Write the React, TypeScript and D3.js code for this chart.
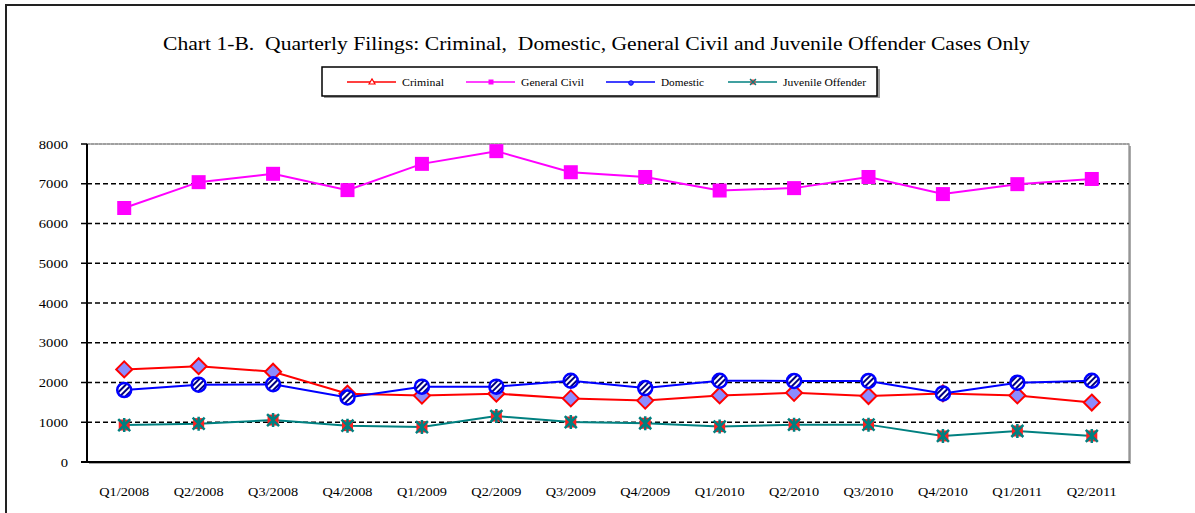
import React from 'react';
import * as d3 from 'd3';

const quarters = ['Q1/2008', 'Q2/2008', 'Q3/2008', 'Q4/2008', 'Q1/2009', 'Q2/2009', 'Q3/2009',
  'Q4/2009', 'Q1/2010', 'Q2/2010', 'Q3/2010', 'Q4/2010', 'Q1/2011', 'Q2/2011'];
const criminal = [2330, 2410, 2270, 1720, 1670, 1720, 1600, 1545, 1675, 1740, 1660, 1725, 1675, 1495];
const generalCivil = [6390, 7040, 7250, 6840, 7500, 7820, 7290, 7170, 6830, 6890, 7170, 6740, 6990, 7120];
const domestic = [1810, 1945, 1955, 1625, 1895, 1895, 2045, 1860, 2045, 2040, 2040, 1725, 1995, 2045];
const juvenile = [930, 965, 1055, 915, 880, 1155, 1005, 975, 890, 940, 940, 655, 780, 655];
const yTicks = [0, 1000, 2000, 3000, 4000, 5000, 6000, 7000, 8000];

const W = 1195;
const H = 513;
const plot = { left: 87, top: 144, right: 1129, bottom: 462 };
const serif = '"Liberation Serif", "Times New Roman", serif';

const x = d3.scaleBand<string>().domain(quarters).range([plot.left, plot.right]);
const y = d3.scaleLinear().domain([0, 8000]).range([plot.bottom, plot.top]);
const cx = (q: string) => (x(q) ?? 0) + x.bandwidth() / 2;

const line = (vals: number[]) =>
  d3.line<number>().x((_, i) => cx(quarters[i])).y(v => y(v))(vals) ?? '';

const Diamond = ({ px, py }: { px: number; py: number }) => (
  <path d={`M${px},${py - 8}L${px + 8},${py}L${px},${py + 8}L${px - 8},${py}Z`}
    fill="#8c8cff" stroke="#ff0000" strokeWidth={2} />
);
const Square = ({ px, py, s = 14 }: { px: number; py: number; s?: number }) => (
  <rect x={px - s / 2} y={py - s / 2} width={s} height={s} fill="#ff00ff" />
);
const Ring = ({ px, py, r = 7 }: { px: number; py: number; r?: number }) => (
  <circle cx={px} cy={py} r={r} fill="url(#stripes)" stroke="#0000ff" strokeWidth={2.5} />
);
const Star = ({ px, py, s = 11 }: { px: number; py: number; s?: number }) => (
  <g>
    <rect x={px - s / 2} y={py - s / 2} width={s} height={s} fill="#ff2020" />
    <path d={`M${px - 6},${py - 6}L${px + 6},${py + 6}M${px - 6},${py + 6}L${px + 6},${py - 6}M${px},${py - 7}L${px},${py + 7}`}
      stroke="#008080" strokeWidth={2.5} />
  </g>
);

const legendItems = [
  { name: 'Criminal', color: '#ff0000', x0: 347, w: 42 },
  { name: 'General Civil', color: '#ff00ff', x0: 466, w: 63 },
  { name: 'Domestic', color: '#0000ff', x0: 606, w: 43 },
  { name: 'Juvenile Offender', color: '#008080', x0: 728, w: 83 },
];

export default function App() {
  const legendY = 82;
  return (
    <svg width={W} height={H} style={{ position: 'absolute', left: 0, top: 0, background: '#fff' }}
      fontFamily={serif}>
      <defs>
        <pattern id="stripes" patternUnits="userSpaceOnUse" width={4} height={4}
          patternTransform="rotate(45)">
          <rect width={4} height={4} fill="#ffffff" />
          <rect width={2} height={4} fill="#000080" />
        </pattern>
      </defs>

      {/* outer frame */}
      <path d={`M6,${H}V5H${W}`} fill="none" stroke="#222" strokeWidth={2} />

      <text x={163} y={50} fontSize={19.5} textLength={867} lengthAdjust="spacingAndGlyphs"
        style={{ whiteSpace: 'pre' }}>
        Chart 1-B.  Quarterly Filings: Criminal,  Domestic, General Civil and Juvenile Offender Cases Only
      </text>

      {/* legend */}
      <rect x={324} y={69} width={556} height={29} fill="#999" />
      <rect x={322} y={67} width={555} height={29} fill="#fff" stroke="#000" strokeWidth={1.5} />
      {legendItems.map((it, i) => {
        const mid = it.x0 + 25;
        return (
          <g key={it.name}>
            <line x1={it.x0} x2={it.x0 + 49} y1={legendY} y2={legendY} stroke={it.color} strokeWidth={1.5} />
            {i === 0 && <path d={`M${mid - 3},${legendY + 2}L${mid},${legendY - 3}L${mid + 3},${legendY + 2}Z`}
              fill="#fff" stroke="#ff0000" strokeWidth={1.2} />}
            {i === 1 && <Square px={mid} py={legendY} s={5} />}
            {i === 2 && <circle cx={mid} cy={legendY + 1} r={2.3} fill="#4040ff" stroke="#0000ff" strokeWidth={1} />}
            {i === 3 && <g>
              <rect x={mid - 2.5} y={legendY - 2.5} width={5} height={5} fill="#ff4040" />
              <path d={`M${mid - 3},${legendY - 3}L${mid + 3},${legendY + 3}M${mid - 3},${legendY + 3}L${mid + 3},${legendY - 3}`}
                stroke="#008080" strokeWidth={1.3} />
            </g>}
            <text x={it.x0 + 55} y={legendY + 3.5} fontSize={10.5} textLength={it.w}
              lengthAdjust="spacingAndGlyphs">{it.name}</text>
          </g>
        );
      })}

      {/* plot area */}
      <rect x={plot.left + 2} y={plot.top + 2} width={plot.right - plot.left} height={plot.bottom - plot.top}
        fill="#aaa" />
      <rect x={plot.left} y={plot.top} width={plot.right - plot.left} height={plot.bottom - plot.top}
        fill="#fff" stroke="#888" strokeWidth={1.2} />
      {yTicks.filter(t => t > 0 && t < 8000).map(t => (
        <line key={t} x1={plot.left} x2={plot.right} y1={y(t)} y2={y(t)}
          stroke="#000" strokeWidth={1.5} strokeDasharray="5,3" />
      ))}
      <line x1={plot.left} x2={plot.right} y1={y(8000)} y2={y(8000)} stroke="#999" strokeWidth={1.5} strokeDasharray="3,1" />

      {/* axes */}
      <line x1={plot.left} x2={plot.left} y1={plot.top} y2={plot.bottom} stroke="#000" strokeWidth={2} />
      <line x1={plot.left - 6} x2={plot.right + 1} y1={plot.bottom} y2={plot.bottom} stroke="#000" strokeWidth={2} />
      {yTicks.map(t => (
        <g key={t}>
          <line x1={plot.left - 6} x2={plot.left} y1={y(t)} y2={y(t)} stroke="#000" strokeWidth={1.5} />
          <text x={68} y={y(t) + 4.5} textAnchor="end" fontSize={13.5}
            textLength={String(t).length * 7.3} lengthAdjust="spacingAndGlyphs">{t}</text>
        </g>
      ))}
      {quarters.map(q => (
        <text key={q} x={cx(q)} y={496} textAnchor="middle" fontSize={13.5}
          textLength={50} lengthAdjust="spacingAndGlyphs">{q}</text>
      ))}

      {/* series */}
      <path d={line(generalCivil)} fill="none" stroke="#ff00ff" strokeWidth={2} />
      {generalCivil.map((v, i) => <Square key={i} px={cx(quarters[i])} py={y(v)} />)}

      <path d={line(juvenile)} fill="none" stroke="#008080" strokeWidth={2} />
      {juvenile.map((v, i) => <Star key={i} px={cx(quarters[i])} py={y(v)} />)}

      <path d={line(criminal)} fill="none" stroke="#ff0000" strokeWidth={2} />
      {criminal.map((v, i) => <Diamond key={i} px={cx(quarters[i])} py={y(v)} />)}

      <path d={line(domestic)} fill="none" stroke="#0000ff" strokeWidth={2} />
      {domestic.map((v, i) => <Ring key={i} px={cx(quarters[i])} py={y(v)} />)}
    </svg>
  );
}
